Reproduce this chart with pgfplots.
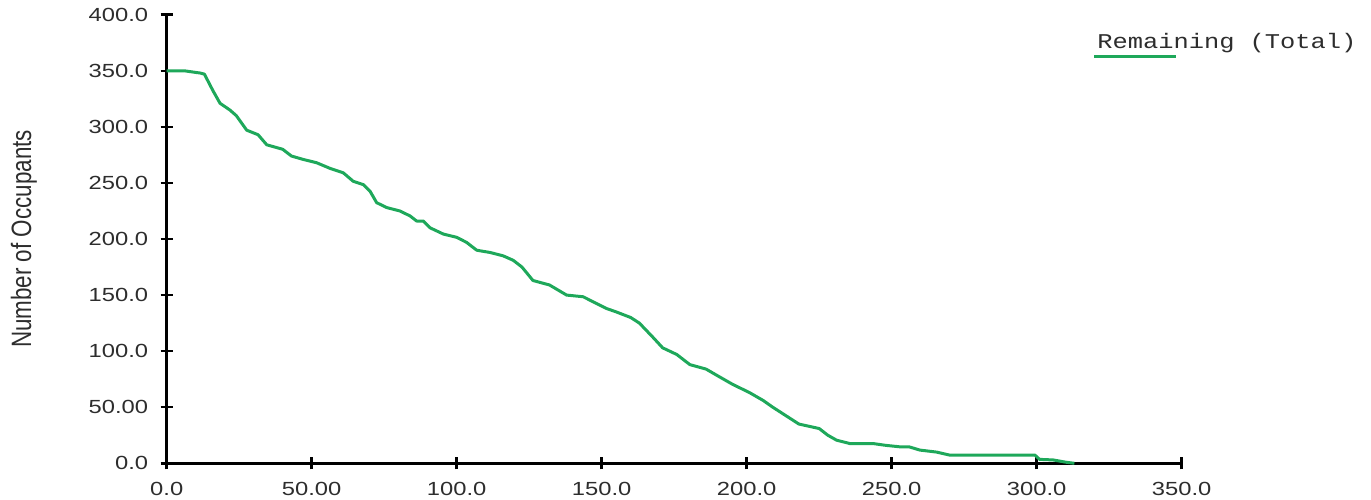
\documentclass[border=0pt]{standalone}
\usepackage{fontspec}
\usepackage{pgfplots}
\pgfplotsset{compat=1.18}
\setmainfont{Liberation Sans}
\newfontfamily\tickfont[FakeStretch=1.25]{Liberation Sans}
\newfontfamily\labfont[FakeStretch=0.8]{Liberation Sans}
\newfontfamily\legfont[FakeStretch=1.21]{Liberation Mono}
\definecolor{curvegreen}{RGB}{30,168,90}
\definecolor{txt}{RGB}{45,45,45}
\begin{document}
\begin{tikzpicture}[x=1pt,y=1pt]
\useasboundingbox (0,0) rectangle (1371,499);
\begin{axis}[
  at={(166.7pt,35.7pt)}, anchor=south west,
  scale only axis, width=1015pt, height=448.6pt,
  xmin=0, xmax=350, ymin=0, ymax=400,
  axis x line*=bottom, axis y line*=left,
  axis line style={-, black, line width=2.5pt},
  tick style={black, line width=2.5pt},
  tick align=center, major tick length=12pt,
  xtick={0,50,100,150,200,250,300,350},
  xticklabels={0.0,50.00,100.0,150.0,200.0,250.0,300.0,350.0},
  ytick={0,50,100,150,200,250,300,350,400},
  yticklabels={0.0,50.00,100.0,150.0,200.0,250.0,300.0,350.0,400.0},
  tick label style={font=\tickfont\fontsize{19}{21}\selectfont, text=txt},
  xticklabel style={yshift=-9pt},
  yticklabel style={xshift=-9pt},
  ylabel={Number of Occupants},
  every axis y label/.style={at={(axis description cs:-0.1406,0.5)}, rotate=90, anchor=center, font=\labfont\fontsize{28}{30}\selectfont, text=txt},
  clip=false,
  legend style={at={(axis description cs:0.9137,0.9626)}, anchor=north west, draw=none, fill=none, inner sep=0pt, column sep=0pt, font=\legfont\fontsize{21}{23}\selectfont, text=txt},
  legend image code/.code={\draw[#1, overlay] (0pt,-14pt) -- (82pt,-14pt); \path[draw=none,fill=none] (0pt,0pt) -- (1pt,0pt);},
]
\addplot[curvegreen, line width=3pt, line join=round] coordinates {
(0,350)(6,350)(11.5,348)(13,347)(16,332)(18.4,321)(21.8,315)(24,310)(27.6,297)(31.5,293)(34.5,284)(40,280)(43,274)(47,271)(51.7,268)(56.3,263)(60.9,259)(64.3,251.5)(67.8,248.5)(70.1,242.7)(72.4,232.4)(75.9,228)(80.4,225)(83.9,220.6)(86.2,216)(88.5,216)(90.8,210)(95.4,204.4)(100,201.5)(103.4,197)(106.9,190)(111.5,188)(116,185)(119.5,181)(122.5,175)(126.3,163)(132,159)(137.9,150)(143.6,148.5)(151.7,138)(155,135)(160,130)(163,125)(167.8,112)(171,103)(175.9,97)(180.4,88)(186,84)(190,78)(195,70.6)(201,63)(205.7,56)(209,50)(212.6,44)(218,35)(225,31)(228,25)(231,20.6)(235.6,17.6)(243.6,17.6)(248,16)(252.8,14.7)(256,14.7)(259.7,11.8)(265.5,10)(270,7.3)(299.4,7.3)(301,3.5)(305.7,3)(310,1)(313,0)
};
\addlegendentry{Remaining (Total)}
\end{axis}
\end{tikzpicture}
\end{document}
